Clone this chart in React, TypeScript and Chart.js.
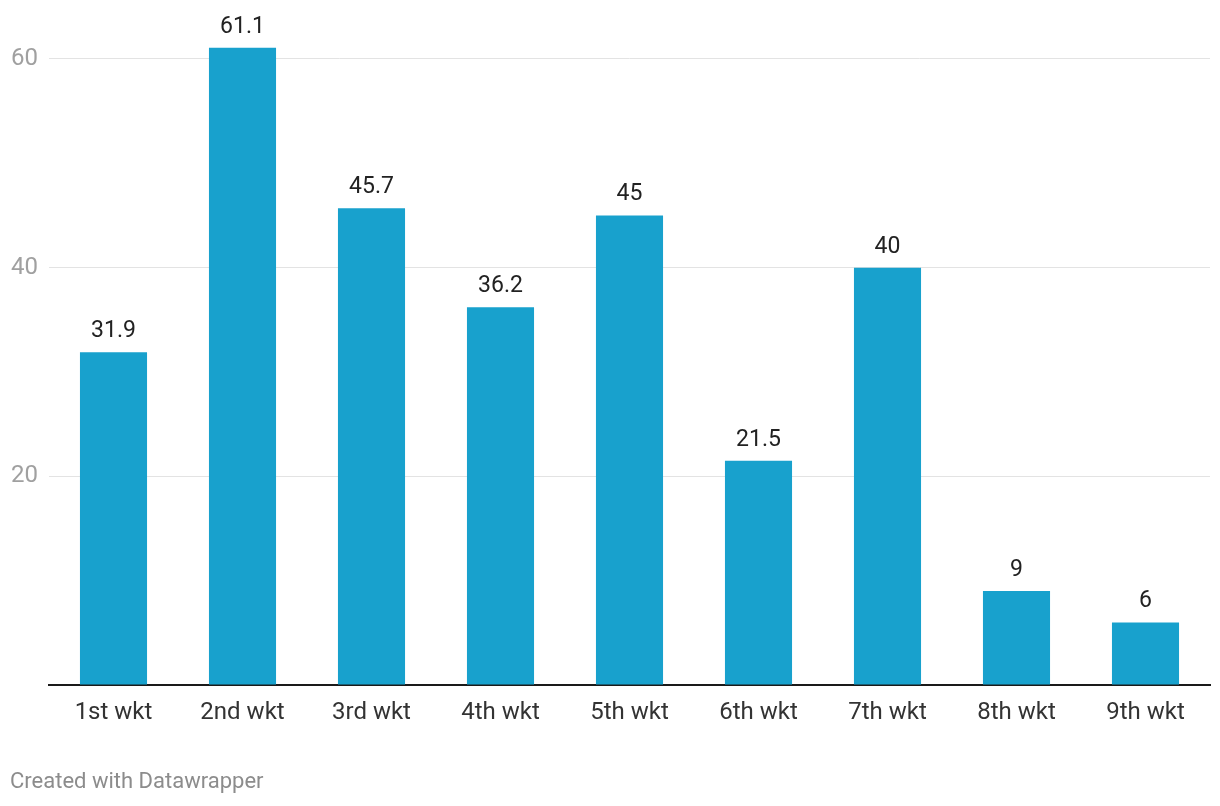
import React, { useEffect, useRef } from "react";
import { Chart, registerables } from "chart.js";

Chart.register(...registerables);

const categories = ["1st wkt", "2nd wkt", "3rd wkt", "4th wkt", "5th wkt", "6th wkt", "7th wkt", "8th wkt", "9th wkt"];
const values = [31.9, 61.1, 45.7, 36.2, 45, 21.5, 40, 9, 6];
const yTicks = [0, 20, 40, 60];
const footerText = "Created with Datawrapper";

const FONT = "Roboto, 'Noto Sans', sans-serif";

export default function App() {
  const ref = useRef<HTMLCanvasElement | null>(null);

  useEffect(() => {
    if (!ref.current) return;
    const labelPlugin = {
      id: "valueLabels",
      afterDatasetsDraw(chart: any) {
        const ctx = chart.ctx;
        const meta = chart.getDatasetMeta(0);
        ctx.save();
        ctx.font = `23px ${FONT}`;
        ctx.fillStyle = "#222222";
        ctx.textAlign = "center";
        ctx.textBaseline = "alphabetic";
        meta.data.forEach((bar: any, i: number) => {
          ctx.fillText(String(values[i]), bar.x, bar.y - 15);
        });
        ctx.restore();
      },
      afterDraw(chart: any) {
        const ctx = chart.ctx;
        ctx.save();
        ctx.font = `22px ${FONT}`;
        ctx.fillStyle = "#8c8c8c";
        ctx.textAlign = "left";
        ctx.textBaseline = "alphabetic";
        ctx.fillText(footerText, 10, 788);
        ctx.restore();
      },
    };

    const chart = new Chart(ref.current, {
      type: "bar",
      data: {
        labels: categories,
        datasets: [
          {
            data: values,
            backgroundColor: "#18a1cd",
            categoryPercentage: 1,
            barPercentage: 0.52,
          },
        ],
      },
      options: {
        responsive: false,
        animation: false,
        layout: { padding: { top: 47.5, right: 10, left: 0, bottom: 0 } },
        plugins: {
          legend: { display: false },
          tooltip: { enabled: false },
          title: { display: false },
        },
        scales: {
          x: {
            grid: { display: false },
            border: { display: true, color: "#1a1a1a", width: 2 },
            ticks: {
              color: "#333333",
              font: { family: FONT, size: 24 },
              padding: 6,
              maxRotation: 0,
            },
            afterFit: (s: any) => {
              s.height = 806 - 685;
            },
          },
          y: {
            min: 0,
            max: 61.1,
            afterBuildTicks: (s: any) => {
              s.ticks = yTicks.map((v) => ({ value: v }));
            },
            grid: {
              color: (c: any) => (c.tick && c.tick.value === 0 ? "rgba(0,0,0,0)" : "#e3e3e3"),
              lineWidth: 1,
              drawTicks: false,
            },
            border: { display: false },
            ticks: {
              color: "#a0a0a0",
              font: { family: FONT, size: 24 },
              padding: 11,
              callback: (v: any) => (v === 0 ? "" : String(v)),
            },
            afterFit: (s: any) => {
              s.width = 49;
            },
          },
        },
      },
      plugins: [labelPlugin],
    });
    return () => chart.destroy();
  }, []);

  return (
    <div style={{ position: "absolute", left: 0, top: 0, width: 1220, height: 806, background: "#fff" }}>
      <canvas ref={ref} width={1220} height={806} style={{ width: 1220, height: 806 }} />
    </div>
  );
}
